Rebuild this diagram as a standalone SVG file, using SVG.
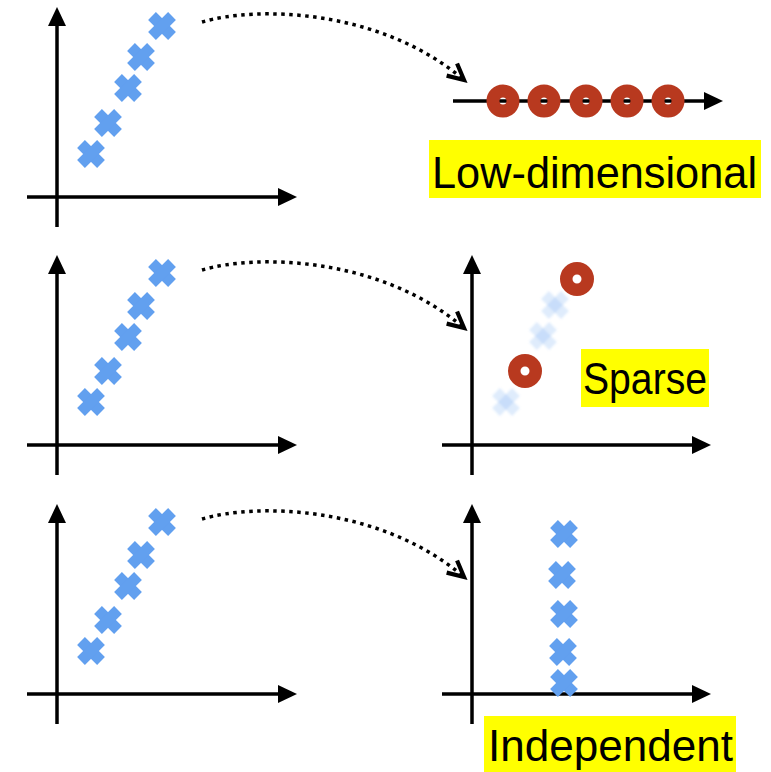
<svg xmlns="http://www.w3.org/2000/svg" xmlns:xlink="http://www.w3.org/1999/xlink" width="771" height="772" viewBox="0 0 771 772">
<style>
.ax{stroke:#000;stroke-width:3.5;fill:none;marker-end:url(#ah)}
.cr{stroke:#62a0ef;stroke-width:11;fill:none}
.fc{stroke:#62a0ef;stroke-width:11;stroke-opacity:0.2;fill:none}
.ring{fill:none;stroke:#b8391f}
.conn{stroke:#000;stroke-width:3.5;fill:none;stroke-dasharray:3.5 4.5;marker-end:url(#ch)}
.lbl{font-family:"Liberation Sans",Arial,sans-serif;font-size:44px;fill:#000}
.hl{fill:#ffff00}
</style>
<defs>
<marker id="ah" markerUnits="userSpaceOnUse" markerWidth="20" markerHeight="18" refX="1" refY="9" orient="auto" overflow="visible">
<path d="M0,0 L19,9 L0,18 Z" fill="#000"/>
</marker>
<marker id="ch" markerUnits="userSpaceOnUse" markerWidth="20" markerHeight="20" refX="0" refY="0" orient="auto" overflow="visible">
<path d="M-16,-8 L0,0 L-16,8" fill="none" stroke="#000" stroke-width="4.2" stroke-dasharray="none" stroke-linejoin="miter"/>
</marker>
<g id="x"><path d="M-10,-10 L10,10"/><path d="M10,-10 L-10,10"/></g>
<filter id="bl" x="-30%" y="-30%" width="160%" height="160%"><feGaussianBlur stdDeviation="1.2"/></filter>
</defs>

<g id="panel-top-left">
<line class="ax" x1="57" y1="227" x2="57" y2="25"/>
<line class="ax" x1="27" y1="197" x2="279" y2="197"/>
<g class="cr">
<use href="#x" x="91" y="154"/><use href="#x" x="108" y="123"/><use href="#x" x="128" y="88"/><use href="#x" x="141" y="57"/><use href="#x" x="162" y="26"/>
</g>
</g>

<g id="panel-mid-left">
<line class="ax" x1="57" y1="475" x2="57" y2="273"/>
<line class="ax" x1="27" y1="445" x2="279" y2="445"/>
<g class="cr">
<use href="#x" x="91" y="402"/><use href="#x" x="108" y="371"/><use href="#x" x="128" y="337"/><use href="#x" x="141" y="306"/><use href="#x" x="162" y="273"/>
</g>
</g>

<g id="panel-bot-left">
<line class="ax" x1="57" y1="724" x2="57" y2="522"/>
<line class="ax" x1="27" y1="694" x2="279" y2="694"/>
<g class="cr">
<use href="#x" x="91" y="651"/><use href="#x" x="108" y="620"/><use href="#x" x="128" y="586"/><use href="#x" x="141" y="555"/><use href="#x" x="162" y="522"/>
</g>
</g>

<g id="panel-top-right">
<line class="ax" x1="453" y1="101" x2="705" y2="101"/>
<circle class="ring" cx="503" cy="101" r="10" stroke-width="13"/>
<circle class="ring" cx="544" cy="101" r="10" stroke-width="13"/>
<circle class="ring" cx="586" cy="101" r="10" stroke-width="13"/>
<circle class="ring" cx="627" cy="101" r="10" stroke-width="13"/>
<circle class="ring" cx="668" cy="101" r="10" stroke-width="13"/>
<rect class="hl" x="429" y="140" width="332" height="58"/>
<text class="lbl" x="432" y="188" textLength="325" lengthAdjust="spacingAndGlyphs">Low-dimensional</text>
</g>

<g id="panel-mid-right">
<line class="ax" x1="472" y1="475" x2="472" y2="273"/>
<line class="ax" x1="442" y1="445" x2="693" y2="445"/>
<g class="fc" filter="url(#bl)">
<use href="#x" x="555" y="305"/><use href="#x" x="543" y="336"/><use href="#x" x="506" y="402"/>
</g>
<circle class="ring" cx="577" cy="279" r="10.75" stroke-width="12.5"/>
<circle class="ring" cx="525" cy="371" r="10.75" stroke-width="12.5"/>
<rect class="hl" x="581" y="349" width="128" height="58"/>
<text class="lbl" x="583" y="394" textLength="124" lengthAdjust="spacingAndGlyphs">Sparse</text>
</g>

<g id="panel-bot-right">
<line class="ax" x1="472" y1="724" x2="472" y2="522"/>
<line class="ax" x1="442" y1="694" x2="693" y2="694"/>
<g class="cr">
<use href="#x" x="564" y="534"/><use href="#x" x="562" y="575"/><use href="#x" x="564" y="614"/><use href="#x" x="563" y="652"/><use href="#x" x="564" y="683"/>
</g>
<rect class="hl" x="484" y="716" width="252" height="56"/>
<text class="lbl" x="488" y="761" textLength="245" lengthAdjust="spacingAndGlyphs">Independent</text>
</g>

<g id="connectors">
<path class="conn" d="M202,22 C255,6 380,8 464,80"/>
<path class="conn" d="M202,270 C255,254 380,256 464,328"/>
<path class="conn" d="M202,519 C255,503 380,505 464,577"/>
</g>
</svg>
